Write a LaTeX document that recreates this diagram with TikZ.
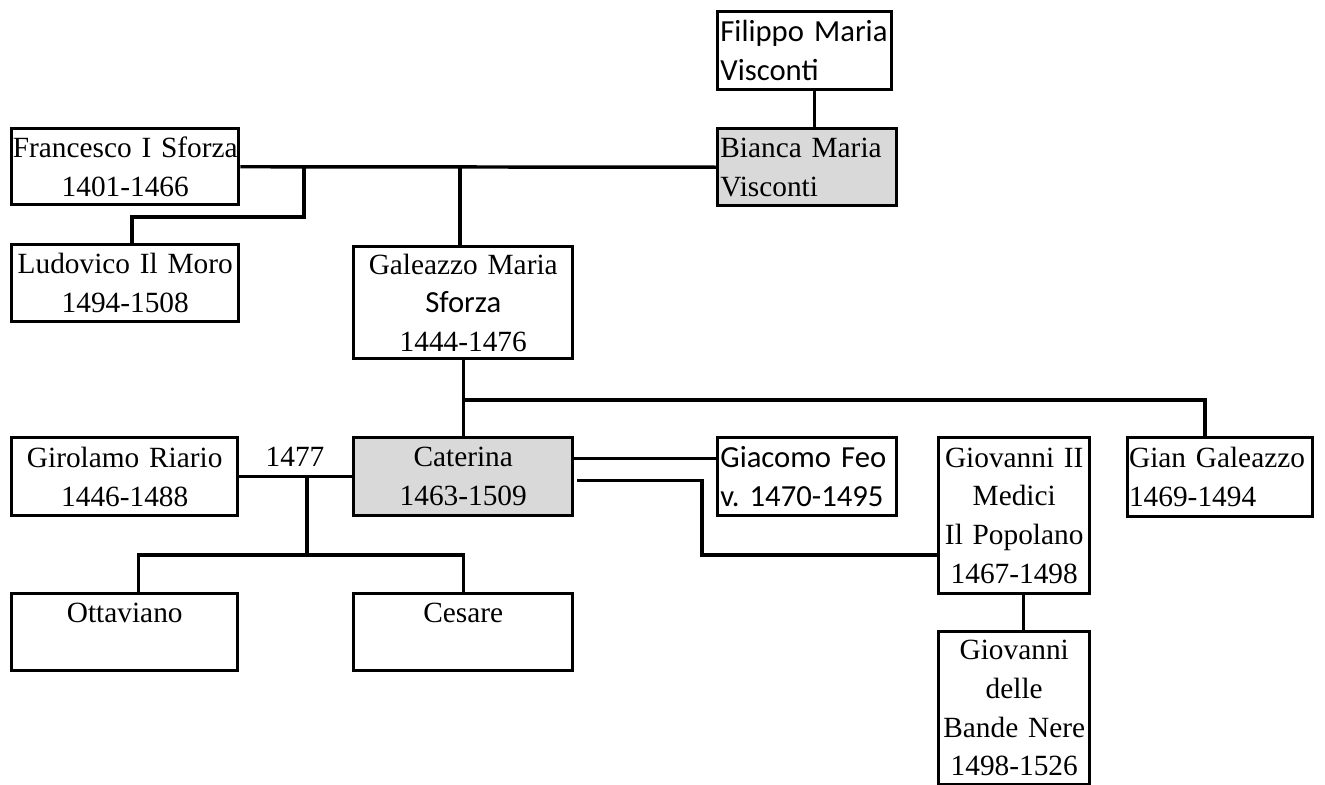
\documentclass[tikz,border=0pt]{standalone}
\usepackage{fontspec}
\setmainfont{Liberation Serif}
\newfontfamily\calibri{Carlito}
\usepackage{tikz}
\definecolor{shade}{HTML}{D9D9D9}
\frenchspacing

\begin{document}
\begin{tikzpicture}[x=0.75pt, y=-0.75pt,
	person/.style={draw, line width=2.6pt, inner sep=0pt, anchor=north west, align=center, font=\fontsize{22}{29}\selectfont},
	leftbox/.style={person, align=left, inner xsep=2pt},
	wed/.style={line width=2.6pt}]
	\useasboundingbox (0,0) rectangle (1325,785);
	
	% Top rows
	\node[leftbox, text width=126.5pt, minimum height=58.5pt, font=\fontsize{23}{29}\calibri] (filippo) at (716,10) {Filippo Maria\\Visconti};
	\node[leftbox, fill=shade, text width=130.25pt, minimum height=57.75pt] (bianca) at (716,127) {Bianca Maria\\Visconti};
	\node[person, text width=170.25pt, minimum height=57pt] (francesco) at (10,127) {Francesco I Sforza\\1401-1466};
	\node[person, text width=170.25pt, minimum height=57.75pt] (ludovico) at (10,243) {Ludovico Il Moro\\1494-1508};
	\node[person, text width=164.25pt, minimum height=84pt] (galeazzo) at (352,245) {Galeazzo Maria\\{\fontsize{23}{29}\calibri Sforza}\\1444-1476};
	
	% Caterina's row
	\node[person, text width=169.5pt, minimum height=58.5pt] (girolamo) at (10,436) {Girolamo Riario\\1446-1488};
	\node (yr) at (295,457) {\fontsize{22}{29}\selectfont 1477};
	\node[person, fill=shade, text width=164.25pt, minimum height=58.5pt] (caterina) at (352,436) {Caterina\\1463-1509};
	\node[leftbox, text width=130.25pt, minimum height=58.5pt, font=\fontsize{23}{29}\calibri] (giacomo) at (716,436) {Giacomo Feo\\v. 1470-1495};
	\node[person, text width=113.25pt, minimum height=117pt] (giovanni) at (937,436) {Giovanni II\\Medici\\Il Popolano\\1467-1498};
	\node[leftbox, inner xsep=1pt, text width=136.75pt, minimum height=59.25pt] (gian) at (1126,436) {Gian Galeazzo\\1469-1494};
	
	% Children
	\node[person, text width=169.5pt, minimum height=57.75pt] (ottaviano) at (10,592) {Ottaviano\\~};
	\node[person, text width=164.25pt, minimum height=57.75pt] (cesare) at (352,592) {Cesare\\~};
	\node[person, text width=113.25pt, minimum height=114.75pt] (bande) at (937,630) {Giovanni\\delle\\Bande Nere\\1498-1526};
	
	% Lines
	\coordinate (fdrop) at (304,166);
	\coordinate (fturn) at (304,217);
	\coordinate (sib) at (461.5,400);
	\coordinate (knot) at (307,475);
	\coordinate (kids) at (307,555);
	\coordinate (gturn) at (702,555);
	
	\draw[wed] ([xshift=7.5pt]filippo.south) -- ([xshift=7.5pt]filippo.south |- bianca.north);
	\draw[wed] (francesco.east) -- (bianca.west); % marriage
	\draw[wed] (fdrop) -- (fturn) -| ([xshift=5pt]ludovico.north);
	\draw[wed] ([xshift=-2.6pt]galeazzo.north |- francesco.east) -- ([xshift=-2.6pt]galeazzo.north);
	\draw[wed] (galeazzo.south) -- (caterina.north);
	\draw[wed] (sib) -| ([xshift=-11.6pt]gian.north);
	
	\draw[wed] (girolamo.east) -- (caterina.west); % marriage 1477
	\draw[wed] (knot) -- (kids);
	\draw[wed] ([xshift=10.5pt]ottaviano.north) |- (kids) -| (cesare.north);
	\draw[wed] ([yshift=13.5pt]caterina.east) -- ([yshift=13.5pt]giacomo.west);
	\draw[wed] ([xshift=2pt,yshift=-3pt]caterina.east) -| (gturn) -- (gturn -| giovanni.west);
	\draw[wed] ([xshift=7pt]giovanni.south) -- ([xshift=7pt]bande.north);
\end{tikzpicture}
\end{document}
